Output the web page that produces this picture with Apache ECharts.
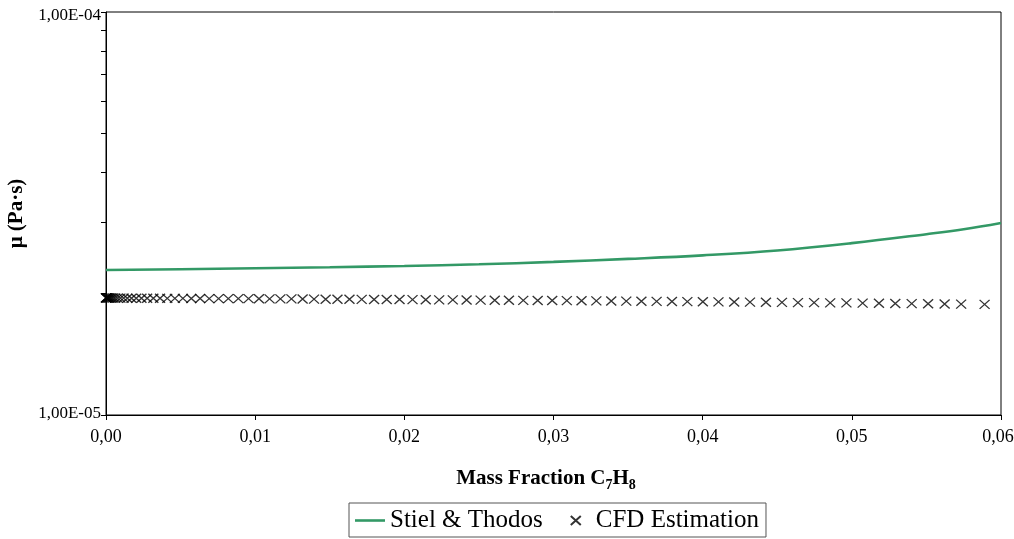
<!DOCTYPE html>
<html>
<head>
<meta charset="utf-8">
<script src="https://cdn.jsdelivr.net/npm/echarts@6/dist/echarts.min.js"></script>
<style>
html,body{margin:0;padding:0;background:#fff;}
#chart{width:1014px;height:539px;}
</style>
</head>
<body>
<div id="chart"></div>
<script>
// Stiel & Thodos (viscosity in 1e-5 Pa·s)
const stielX = [0, 0.005, 0.01, 0.015, 0.02, 0.025, 0.03, 0.035, 0.04, 0.045, 0.05, 0.055, 0.0575, 0.06];
const stielMu = [2.290, 2.300, 2.312, 2.326, 2.343, 2.366, 2.398, 2.44, 2.49, 2.56, 2.67, 2.81, 2.89, 2.995];

// CFD Estimation (viscosity in 1e-5 Pa·s)
const cfdX = [0, 0, 0.0000134, 0.0000336, 0.0000604, 0.000094, 0.000141, 0.000201, 0.000275, 0.000369, 0.000483, 0.000617, 0.000779, 0.000966, 0.001181, 0.00143, 0.001711, 0.002027, 0.002376, 0.002758, 0.003174, 0.003624, 0.004107, 0.004617, 0.005154, 0.005718, 0.006309, 0.006919, 0.00755, 0.008201, 0.008872, 0.009557,
  0.010255, 0.010966, 0.011691, 0.01243, 0.013181, 0.013946, 0.014725, 0.015517, 0.016322, 0.017141, 0.017973, 0.018819, 0.019678,
  0.02055, 0.021436, 0.022336, 0.023248, 0.024174, 0.025114, 0.02606, 0.027013, 0.027973, 0.02894, 0.029913,
  0.030893, 0.031879, 0.032872, 0.033872, 0.034879, 0.035893, 0.036913, 0.03794, 0.038973,
  0.040013, 0.04106, 0.042114, 0.043174, 0.044242, 0.045315, 0.046389, 0.04747, 0.04855, 0.049638,
  0.050725, 0.051819, 0.052913, 0.054013, 0.055114, 0.056221, 0.057329, 0.0589];
const cfdMu = [1.952, 1.952, 1.952, 1.952, 1.952, 1.952, 1.951, 1.951, 1.951, 1.951, 1.951, 1.950, 1.950, 1.950, 1.950, 1.949, 1.949, 1.949, 1.949, 1.948, 1.948, 1.948, 1.947, 1.947, 1.947, 1.946, 1.946, 1.945, 1.945, 1.945, 1.944, 1.944,
  1.943, 1.942, 1.941, 1.941, 1.940, 1.939, 1.938, 1.938, 1.937, 1.936, 1.935, 1.935, 1.934,
  1.933, 1.932, 1.931, 1.930, 1.929, 1.928, 1.927, 1.926, 1.925, 1.924, 1.923,
  1.922, 1.921, 1.919, 1.918, 1.917, 1.915, 1.914, 1.913, 1.911,
  1.910, 1.909, 1.907, 1.906, 1.904, 1.903, 1.901, 1.900, 1.898, 1.897,
  1.895, 1.893, 1.891, 1.890, 1.888, 1.886, 1.884, 1.882];

const yTickValues = [1e-5, 2e-5, 3e-5, 4e-5, 5e-5, 6e-5, 7e-5, 8e-5, 9e-5, 1e-4];
const yLabelValues = [1e-5, 1e-4];

const FONT = 'Liberation Serif';

function fmtExp(v) {
  const e = Math.floor(Math.log10(v) + 1e-9);
  const m = v / Math.pow(10, e);
  const sign = e < 0 ? '-' : '+';
  return m.toFixed(2).replace('.', ',') + 'E' + sign + String(Math.abs(e)).padStart(2, '0');
}

const chart = echarts.init(document.getElementById('chart'));
chart.setOption({
  animation: false,
  backgroundColor: '#fff',
  grid: {
    left: 106, right: 13, top: 12, bottom: 124,
    outerBoundsMode: 'none', containLabel: false,
    show: true, borderColor: '#000', borderWidth: 1, backgroundColor: 'transparent'
  },
  xAxis: {
    type: 'value', min: 0, max: 0.06, interval: 0.01,
    name: 'Mass Fraction C{sub|7}H{sub|8}',
    nameLocation: 'middle', nameGap: 51,
    nameTextStyle: {
      fontFamily: FONT, fontSize: 21, fontWeight: 'bold', color: '#000', padding: [0, 15, 0, 0],
      rich: { sub: { fontFamily: FONT, fontSize: 14, fontWeight: 'bold', color: '#000', verticalAlign: 'bottom', padding: [12, 0, 0, 0] } }
    },
    axisLine: { show: true, lineStyle: { color: '#000', width: 1 } },
    axisTick: { show: true, inside: false, length: 5, lineStyle: { color: '#000' } },
    axisLabel: {
      fontFamily: FONT, fontSize: 18, color: '#000', margin: 13,
      formatter: v => {
        const s = v.toFixed(2).replace('.', ',');
        return v >= 0.06 - 1e-9 ? '{last|' + s + '}' : s;
      },
      rich: { last: { fontFamily: FONT, fontSize: 18, color: '#000', padding: [0, 6, 0, 0] } }
    },
    splitLine: { show: false }
  },
  yAxis: {
    type: 'log', logBase: 10, min: 1e-5, max: 1e-4,
    name: 'μ (Pa·s)', nameLocation: 'middle', nameGap: 79, nameRotate: 90,
    nameTextStyle: { fontFamily: FONT, fontSize: 21, fontWeight: 'bold', color: '#000' },
    axisLine: { show: true, lineStyle: { color: '#000', width: 1 } },
    axisTick: { show: true, inside: false, length: 5, lineStyle: { color: '#000' }, customValues: yTickValues },
    axisLabel: {
      fontFamily: FONT, fontSize: 17, color: '#000', margin: 5, customValues: yLabelValues,
      formatter: v => (v > 5e-5 ? '{top|' : '{bot|') + fmtExp(v) + '}',
      rich: {
        top: { fontFamily: FONT, fontSize: 17, color: '#000', padding: [7, 0, 0, 0] },
        bot: { fontFamily: FONT, fontSize: 17, color: '#000', padding: [0, 0, 3, 0] }
      }
    },
    splitLine: { show: false },
    minorTick: { show: false }
  },
  legend: {
    left: 349, top: 503,
    backgroundColor: '#fff', borderColor: '#555', borderWidth: 1, borderRadius: 0,
    padding: [5, 7, 4, 6],
    itemGap: 27, itemWidth: 30, itemHeight: 9,
    textStyle: { fontFamily: FONT, fontSize: 25, color: '#000' },
    data: [
      { name: 'Stiel & Thodos', icon: 'path://M0,0L30,0L30,2.6L0,2.6Z', itemStyle: { color: '#339966', borderWidth: 0 } },
      { name: 'CFD Estimation' }
    ]
  },
  series: [
    {
      name: 'Stiel & Thodos', type: 'line', smooth: 0.4, symbol: 'none',
      lineStyle: { color: '#339966', width: 2.6 }, itemStyle: { color: '#339966' },
      data: stielX.map((x, i) => [x, stielMu[i] * 1e-5]),
      z: 2
    },
    {
      name: 'CFD Estimation', type: 'scatter',
      symbol: 'path://M0,0L10,9M10,0L0,9', symbolSize: [10, 9],
      itemStyle: { color: 'rgba(0,0,0,0)', borderColor: '#000', borderWidth: 1.3 },
      data: cfdX.map((x, i) => [x, cfdMu[i] * 1e-5]),
      z: 3
    }
  ]
});
</script>
</body>
</html>
